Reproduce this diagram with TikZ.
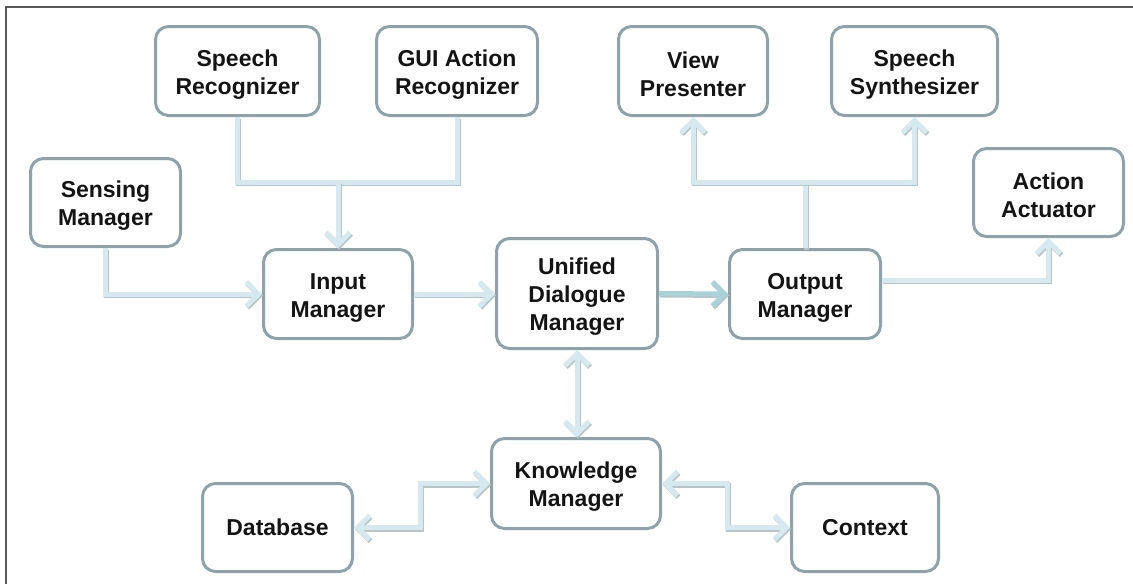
\documentclass[tikz,border=0pt]{standalone}
\usepackage{fontspec}
\setmainfont{Liberation Sans}
\usetikzlibrary{arrows.meta}
\definecolor{boxc}{HTML}{8DA3A9}
\definecolor{flowc}{HTML}{D6E9EE}
\definecolor{flowdark}{HTML}{A9D3D9}
\definecolor{shadc}{HTML}{B7C4C8}
\definecolor{txtc}{HTML}{141414}
\definecolor{framec}{HTML}{5A5A5A}
% extra head room on the first line, so stacked labels sit a little lower
\newcommand\toppad{\rule{0pt}{23pt}}
\tikzset{
  x=1pt, y=-1pt,
  block/.style={draw=boxc, line width=3pt, rounded corners=13pt, fill=white,
    inner sep=0pt, align=center, text=txtc,
    font=\fontsize{23}{28}\selectfont\bfseries},
  link/.style={line width=5pt, draw=flowc, line cap=butt,
    preaction={draw=shadc, line width=5pt, transform canvas={shift={(1pt,-1.5pt)}}}},
  darklink/.style={link, draw=flowdark},
  tip/.style={-{Straight Barb[length=12pt,width=24pt]}},
  dbltip/.style={{Straight Barb[length=12pt,width=24pt]}-{Straight Barb[length=12pt,width=24pt]}},
}
\begin{document}
\begin{tikzpicture}
\useasboundingbox (0,0) rectangle (1133,584);
% frame
\draw[framec, line width=1.6pt] (6,584) -- (6,7) -- (1133,7);

% blocks
\node[block, minimum width=164pt, minimum height=89pt] (sr)  at (237.5,71) {\toppad Speech\\Recognizer};
\node[block, minimum width=161pt, minimum height=89pt] (gui) at (457,71)   {\toppad GUI Action\\Recognizer};
\node[block, minimum width=149pt, minimum height=89pt] (vp)  at (693,71)   {\toppad View\\Presenter};
\node[block, minimum width=166pt, minimum height=89pt] (ss)  at (914.5,71) {\toppad Speech\\Synthesizer};
\node[block, minimum width=150pt, minimum height=88pt] (sm)  at (105.5,202.5) {\toppad Sensing\\Manager};
\node[block, minimum width=150pt, minimum height=88pt] (aa)  at (1048.5,192.5) {\toppad Action\\Actuator};
\node[block, minimum width=149pt, minimum height=89pt] (im)  at (338,294)  {\toppad Input\\Manager};
\node[block, minimum width=161pt, minimum height=110pt] (udm) at (577,293.5) {\toppad Unified\\Dialogue\\Manager};
\node[block, minimum width=151pt, minimum height=89pt] (om)  at (805,294)  {\toppad Output\\Manager};
\node[block, minimum width=169pt, minimum height=90pt] (km)  at (576,483.5) {\toppad Knowledge\\Manager};
\node[block, minimum width=150pt, minimum height=88pt] (db)  at (277.5,527.5) {Database};
\node[block, minimum width=147pt, minimum height=88pt] (ctx) at (865,527.5) {Context};

% junction points
\coordinate (jin)  at (338,182);
\coordinate (jout) at (805,182);
\coordinate (kd)   at (420,483.5);
\coordinate (kc)   at (727,483.5);

% recognizers into the input manager
\draw[link] (sr.south) |- (jin) -| (gui.south);
\draw[link, tip] (jin) -- (im.north);
\draw[link, tip] (sm.south) |- (im.west);

% main pipeline
\draw[link, tip] (im.east) -- (udm.west |- im.east);
\draw[darklink, tip] (udm.east) -- (om.west);

% output fan-out
\draw[link] (om.north) -- (jout);
\draw[link, tip] (jout) -| (vp.south);
\draw[link, tip] (jout) -| (ss.south);
\draw[link, tip] ([yshift=14pt]om.east) -| (aa.south);

% knowledge exchanges
\draw[link, dbltip] (udm.south) -- (udm.south |- km.north);
\draw[link, dbltip] (km.west) -- (kd) |- (db.east);
\draw[link, dbltip] (km.east) -- (kc) |- (ctx.west);
\end{tikzpicture}
\end{document}
